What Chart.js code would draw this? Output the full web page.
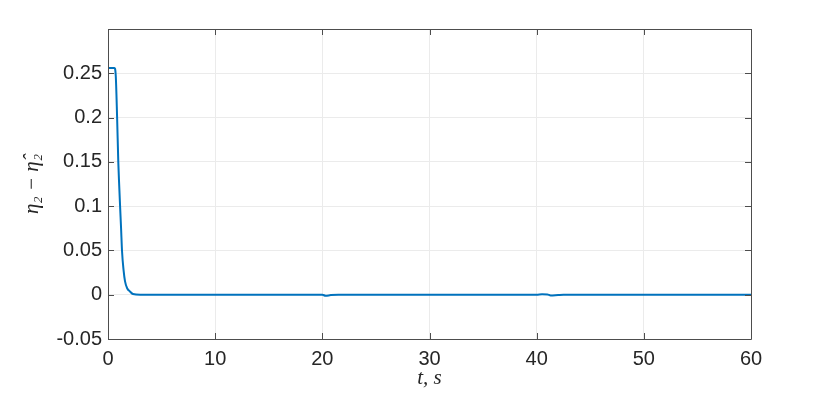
<!DOCTYPE html>
<html>
<head>
<meta charset="utf-8">
<script src="https://cdn.jsdelivr.net/npm/chart.js@4.4.1/dist/chart.umd.min.js"></script>
<style>
  html, body { margin: 0; padding: 0; background: #fff; }
  #wrap { width: 830px; height: 401px; }
</style>
</head>
<body>
<div id="wrap"><canvas id="chart"></canvas></div>
<script>
// time samples (s) and error values
const times = [0, 0.3, 0.6, 0.72, 0.85, 0.96, 1.05, 1.12, 1.22, 1.31, 1.45, 1.59, 1.8, 2.05, 2.33, 3, 10, 20, 20.3, 20.8, 21.5, 30, 40, 40.5, 41, 41.3, 42, 42.5, 50, 60];
const errorValues = [0.256, 0.256, 0.256, 0.248, 0.2, 0.15, 0.122, 0.102, 0.075, 0.049, 0.028, 0.015, 0.007, 0.0037, 0.0008, 0, 0, 0, -0.0012, -0.0004, 0, 0, 0, 0.0005, 0.0003, -0.0008, -0.0003, 0, 0, 0];

const xTicks = [0, 10, 20, 30, 40, 50, 60];
const yTicks = [-0.05, 0, 0.05, 0.1, 0.15, 0.2, 0.25, 0.3];
const yLabels = ["-0.05", "0", "0.05", "0.1", "0.15", "0.2", "0.25", ""];

const points = times.map((t, i) => ({ x: t, y: errorValues[i] }));

// MATLAB style box and inward ticks
const boxPlugin = {
    id: "box",
    afterDraw(chart) {
        const ctx = chart.ctx;
        const a = chart.chartArea;
        const xs = chart.scales.x;
        const ys = chart.scales.y;
        ctx.save();
        ctx.strokeStyle = "#4d4d4d";
        ctx.lineWidth = 1;
        ctx.beginPath();
        ctx.rect(Math.round(a.left) + 0.5, Math.round(a.top) + 0.5,
                 Math.round(a.right - a.left), Math.round(a.bottom - a.top));
        xTicks.forEach(v => {
            const px = Math.round(xs.getPixelForValue(v)) + 0.5;
            ctx.moveTo(px, a.bottom); ctx.lineTo(px, a.bottom - 6);
            ctx.moveTo(px, a.top); ctx.lineTo(px, a.top + 6);
        });
        yTicks.forEach(v => {
            const py = Math.round(ys.getPixelForValue(v)) + 0.5;
            ctx.moveTo(a.left, py); ctx.lineTo(a.left + 6, py);
            ctx.moveTo(a.right, py); ctx.lineTo(a.right - 6, py);
        });
        ctx.stroke();
        ctx.restore();
    }
};

new Chart(document.getElementById("chart"), {
    type: "line",
    data: {
        datasets: [{
            data: points,
            borderColor: "#0072BD",
            borderWidth: 2,
            pointRadius: 0,
            cubicInterpolationMode: "monotone",
            fill: false
        }]
    },
    options: {
        animation: false,
        responsive: true,
        maintainAspectRatio: false,
        layout: { padding: { top: 29, right: 79, left: 0, bottom: 0 } },
        plugins: {
            legend: { display: false },
            tooltip: { enabled: false }
        },
        scales: {
            x: {
                type: "linear",
                min: 0,
                max: 60,
                afterFit: s => { s.height = 62; },
                afterBuildTicks: s => { s.ticks = xTicks.map(v => ({ value: v })); },
                grid: { color: "#ebebeb", drawTicks: false },
                border: { display: false },
                ticks: {
                    padding: 8,
                    color: "#262626",
                    font: { family: "Liberation Sans", size: 20 },
                    maxRotation: 0
                },
                title: {
                    display: true,
                    text: "t, s",
                    color: "#262626",
                    font: { family: "Liberation Serif", size: 21, style: "italic" },
                    padding: { top: 10, bottom: 10 }
                }
            },
            y: {
                min: -0.05,
                max: 0.3,
                afterFit: s => { s.width = 108; },
                afterBuildTicks: s => { s.ticks = yTicks.map(v => ({ value: v })); },
                grid: { color: "#ebebeb", drawTicks: false },
                border: { display: false },
                ticks: {
                    padding: 6,
                    color: "#262626",
                    font: { family: "Liberation Sans", size: 20 },
                    callback: (v, i) => yLabels[i]
                },
                title: {
                    display: true,
                    text: "η₂ − η̂₂",
                    color: "#262626",
                    font: { family: "Liberation Serif", size: 21, style: "italic" },
                    padding: { top: 20, bottom: 20 }
                }
            }
        }
    },
    plugins: [boxPlugin]
});
</script>
</body>
</html>
